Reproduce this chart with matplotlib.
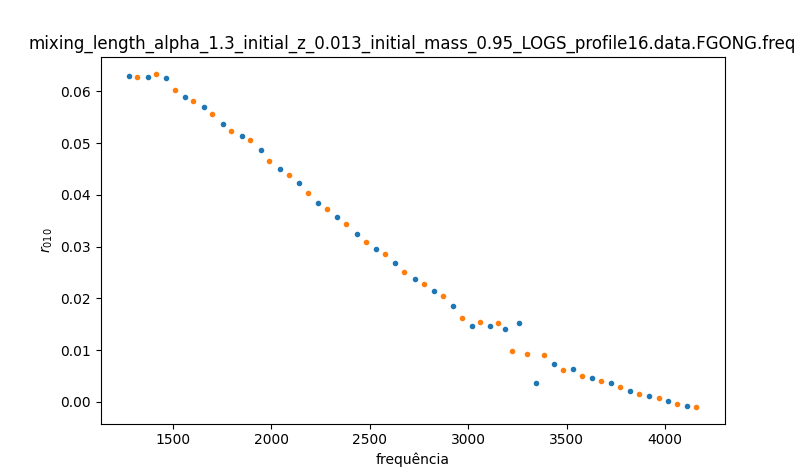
import matplotlib
matplotlib.use("Agg")
import matplotlib.pyplot as plt

blue_freq = [1279, 1376, 1467, 1563, 1660, 1756, 1853, 1949, 2046, 2142, 2239, 2335,
             2436, 2533, 2628, 2731, 2827, 2924, 3020, 3112, 3188, 3259, 3345, 3437,
             3533, 3629, 3726, 3822, 3919, 4015, 4112]
blue_r010 = [0.0630, 0.0628, 0.0626, 0.0590, 0.0570, 0.0536, 0.0514, 0.0487, 0.0450,
             0.0423, 0.0385, 0.0357, 0.0325, 0.0296, 0.0268, 0.0237, 0.0214, 0.0185,
             0.0147, 0.0147, 0.0141, 0.0152, 0.0036, 0.0073, 0.0063, 0.0046, 0.0036,
             0.0021, 0.0011, 0.0001, -0.0008]

orange_freq = [1320, 1416, 1513, 1604, 1700, 1797, 1893, 1990, 2091, 2188, 2284, 2381,
               2482, 2579, 2675, 2777, 2873, 2970, 3061, 3152, 3223, 3300, 3386, 3482,
               3579, 3675, 3772, 3868, 3970, 4061, 4157]
orange_r010 = [0.0628, 0.0634, 0.0603, 0.0582, 0.0557, 0.0524, 0.0506, 0.0466, 0.0439,
               0.0404, 0.0373, 0.0344, 0.0309, 0.0285, 0.0251, 0.0228, 0.0205, 0.0162,
               0.0154, 0.0152, 0.0098, 0.0092, 0.0090, 0.0061, 0.0050, 0.0040, 0.0028,
               0.0015, 0.0007, -0.0004, -0.0010]

title = "mixing_length_alpha_1.3_initial_z_0.013_initial_mass_0.95_LOGS_profile16.data.FGONG.freq"

fig, ax = plt.subplots(figsize=(8.05, 4.76), dpi=100)
fig.subplots_adjust(left=0.125, right=0.9, bottom=0.11, top=0.88)
ax.plot(blue_freq, blue_r010, '.', color='#1f77b4')
ax.plot(orange_freq, orange_r010, '.', color='#ff7f0e')
ax.set_xlabel("frequência")
ax.set_ylabel(r"$r_{010}$")
ax.set_title(title)
fig.savefig("out.png", dpi=100)
